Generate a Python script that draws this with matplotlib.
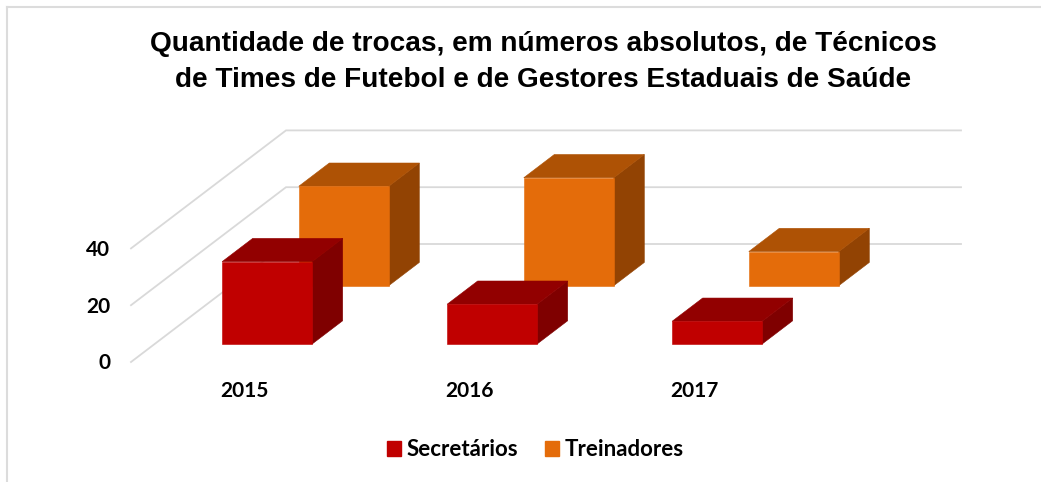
import matplotlib
matplotlib.use("Agg")
import matplotlib.pyplot as plt
from matplotlib.patches import Patch, Polygon

anos = ["2015", "2016", "2017"]
secretarios = [29, 14, 8]
treinadores = [35, 38, 12]
ticks = [0, 20, 40]

# oblique projection, in axis units (one category wide, value units high)
DEPTH_X = 155 / 225
DEPTH_Y = 118 / 2.84
BAR_W = 0.4
BAR_D = 0.197


def proj(x, v, d):
    return x + DEPTH_X * d, v + DEPTH_Y * d


def box(ax, xc, valor, d0, cores):
    x0 = xc - BAR_W / 2
    x1 = xc + BAR_W / 2
    d1 = d0 + BAR_D
    frente = [proj(x0, 0, d0), proj(x1, 0, d0), proj(x1, valor, d0), proj(x0, valor, d0)]
    topo = [proj(x0, valor, d0), proj(x1, valor, d0), proj(x1, valor, d1), proj(x0, valor, d1)]
    lado = [proj(x1, 0, d0), proj(x1, 0, d1), proj(x1, valor, d1), proj(x1, valor, d0)]
    for pts, cor in zip([lado, topo, frente], cores):
        ax.add_patch(Polygon(pts, closed=True, facecolor=cor, edgecolor=cor, lw=0.4, zorder=3))


fig = plt.figure(figsize=(10.41, 4.82), dpi=100)
ax = fig.add_axes([0, 0, 1, 1])
ax.set_xlim(-0.5 - 131 / 225, -0.5 + 910 / 225)
ax.set_ylim(-120 / 2.84, 362 / 2.84)
ax.axis("off")

# gridlines on floor-ish wall
for t in ticks:
    a = proj(-0.5, t, 0)
    b = proj(-0.5, t, 1)
    c = proj(2.5, t, 1)
    ax.plot([a[0], b[0], c[0]], [a[1], b[1], c[1]], color="#d9d9d9", lw=1.3, zorder=1,
            solid_joinstyle="miter")
    ax.annotate(str(t), xy=a, xytext=(-15, -1), textcoords="offset points", ha="right", va="center",
                fontsize=15, fontweight="bold", family="Lato", color="black")

cores_sec = ["#7f0000", "#920000", "#c00000"]
cores_tre = ["#924303", "#ae5205", "#e46c0a"]

# back row first so the red boxes sit in front
for i in range(3):
    box(ax, i, treinadores[i], 0.647, cores_tre)
for i in range(3):
    box(ax, i, secretarios[i], 0.1525, cores_sec)

for i, ano in enumerate(anos):
    ax.annotate(ano, xy=(i, 0), xytext=(0.5, -21), textcoords="offset points", ha="center", va="center",
                fontsize=15, fontweight="bold", family="Lato", color="black")

fig.text(543 / 1041, 1 - 62 / 482,
         "Quantidade de trocas, em números absolutos, de Técnicos\n"
         "de Times de Futebol e de Gestores Estaduais de Saúde",
         ha="center", va="center", fontsize=20.2, fontweight="bold", family="Liberation Sans",
         linespacing=1.5, color="black")

leg = fig.legend(handles=[Patch(color="#c00000", label="Secretários"),
                          Patch(color="#e46c0a", label="Treinadores")],
                 loc="center", bbox_to_anchor=(535 / 1041, 1 - 450 / 482), ncol=2, frameon=False,
                 prop={"family": "Lato", "weight": "bold", "size": 16},
                 handlelength=0.63, handleheight=0.63, handletextpad=0.25, columnspacing=1.2)

# chart border, only top and left show in the crop
fig.add_artist(plt.Line2D([7 / 1041, 7 / 1041], [0, 1 - 7 / 482], color="#dcdcdc", lw=1.5))
fig.add_artist(plt.Line2D([7 / 1041, 1], [1 - 7 / 482, 1 - 7 / 482], color="#dcdcdc", lw=1.5))

fig.savefig("out.png", dpi=100)
